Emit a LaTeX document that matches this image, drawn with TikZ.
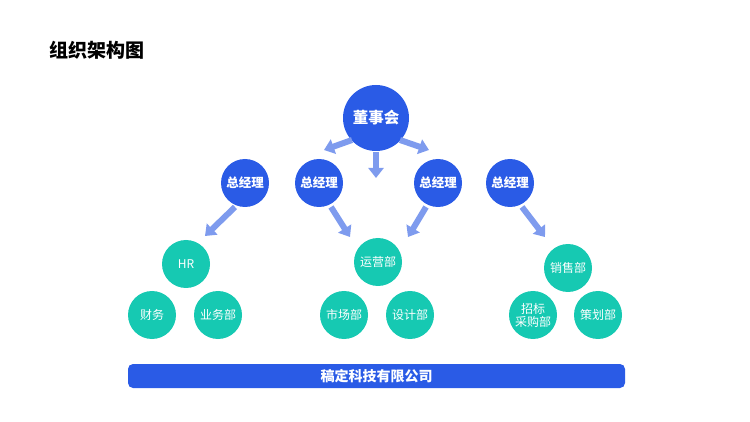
\documentclass[tikz,border=0pt]{standalone}
\usepackage{fontspec}
\setmainfont{Noto Sans CJK SC}
\usetikzlibrary{arrows.meta}
\definecolor{bl}{HTML}{2A5BE6}
\definecolor{tl}{HTML}{16C9B2}
\definecolor{ar}{HTML}{7E9BEE}
\begin{document}
\begin{tikzpicture}[x=1pt,y=-1pt,
 b/.style={circle,fill=bl,text=white,minimum size=48pt,inner sep=0pt,font=\bfseries\fontsize{12.5}{13}\selectfont},
 t/.style={circle,fill=tl,text=white,minimum size=48pt,inner sep=0pt,align=center,font=\fontsize{12}{13}\selectfont},
 ar/.style={draw=ar,line width=6pt,-{Triangle[width=15pt,length=10pt]},shorten >=0pt}]
\useasboundingbox (0,0) rectangle (750,422);
\node[anchor=west,font=\bfseries\fontsize{19}{20}\selectfont] (title) at (46,50) {组织架构图};
\node[b,minimum size=66pt,font=\bfseries\fontsize{15.5}{16}\selectfont] (top) at (376,118) {董事会};
\node[b] (g1) at (245,183) {总经理};
\node[b] (g2) at (319,183) {总经理};
\node[b] (g3) at (438,183) {总经理};
\node[b] (g4) at (510,183) {总经理};
\coordinate (d1) at (324,150); \coordinate (d2) at (376,178); \coordinate (d3) at (429,150);
\draw[ar] (top) ++(-24,22) -- (d1);
\draw[ar] (top) ++(0,34) -- (d2);
\draw[ar] (top) ++(24,22) -- (d3);
\node[t] (hr) at (186,264) {HR};
\node[t] (yy) at (378,262) {运营部};
\node[t] (xs) at (568,268) {销售部};
\coordinate (e1) at (205,236); \coordinate (e2) at (350,237); \coordinate (e3) at (408,237); \coordinate (e4) at (545,237);
\draw[ar] (g1) ++(-10,24) -- (e1);
\draw[ar] (g2) ++(12,24) -- (e2);
\draw[ar] (g3) ++(-12,24) -- (e3);
\draw[ar] (g4) ++(12,24) -- (e4);
\node[t] (cw) at (152,315) {财务};
\node[t] (yw) at (218,315) {业务部};
\node[t] (sc) at (344,315) {市场部};
\node[t] (sj) at (410,315) {设计部};
\node[t] (zb) at (533,315) {招标\\采购部};
\node[t] (ch) at (598,315) {策划部};
\node[fill=bl,rounded corners=5pt,minimum width=497pt,minimum height=24pt,text=white,font=\bfseries\fontsize{14}{15}\selectfont] (bar) at (376.5,376) {稿定科技有限公司};
\end{tikzpicture}
\end{document}
